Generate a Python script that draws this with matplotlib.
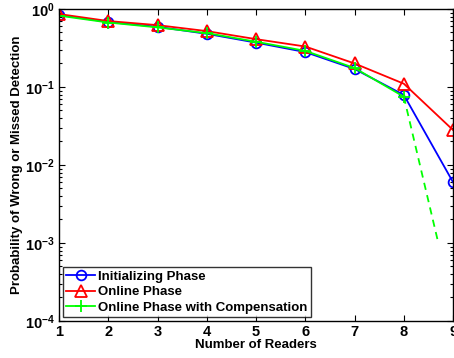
import matplotlib
matplotlib.use("Agg")
import matplotlib.pyplot as plt
from matplotlib.ticker import FixedLocator, LogLocator, NullFormatter

plt.rcParams['font.family'] = ['Liberation Sans', 'DejaVu Sans']
plt.rcParams['font.weight'] = 'bold'
plt.rcParams['mathtext.fontset'] = 'custom'
plt.rcParams['mathtext.rm'] = 'Liberation Sans:bold'
plt.rcParams['mathtext.bf'] = 'Liberation Sans:bold'
plt.rcParams['mathtext.default'] = 'bf'

readers = [1, 2, 3, 4, 5, 6, 7, 8, 9]
initializing = [0.84, 0.68, 0.59, 0.48, 0.37, 0.28, 0.17, 0.079, 0.006]
online = [0.86, 0.70, 0.62, 0.52, 0.41, 0.33, 0.20, 0.11, 0.028]
compensation_x = [1, 2, 3, 4, 5, 6, 7, 8]
compensation = [0.82, 0.67, 0.58, 0.49, 0.38, 0.29, 0.175, 0.075]
compensation_ext_x = [8, 8.7]
compensation_ext = [0.075, 0.001]

yticks = [1e-4, 1e-3, 1e-2, 1e-1, 1e0]
ytick_labels = [r'$10^{-4}$', r'$10^{-3}$', r'$10^{-2}$', r'$10^{-1}$', r'$10^{0}$']

fig = plt.figure(figsize=(4.54, 3.58), dpi=100)
ax = fig.add_axes([0.130, 0.1034, 0.868, 0.8716])

ax.plot(readers, initializing, color='#0000ff', marker='o', markersize=7,
        markerfacecolor='none', markeredgewidth=1.3, lw=1.3, label='Initializing Phase')
ax.plot(readers, online, color='#ff0000', marker='^', markersize=8,
        markerfacecolor='none', markeredgewidth=1.3, lw=1.3, label='Online Phase')
ax.plot(compensation_x, compensation, color='#00ff00', marker='+', markersize=8,
        markeredgewidth=1.3, lw=1.3, label='Online Phase with Compensation')
ax.plot(compensation_ext_x, compensation_ext, color='#00ff00', ls='--', lw=1.3,
        dashes=(4, 3))

ax.set_yscale('log')
ax.set_xlim(1, 9)
ax.set_ylim(1e-4, 1e0)
ax.set_xticks(readers)
ax.set_xticklabels([str(r) for r in readers], fontsize=10.5, fontweight='bold')
ax.yaxis.set_major_locator(FixedLocator(yticks))
ax.set_yticklabels(ytick_labels, fontsize=10.5)
ax.yaxis.set_minor_locator(LogLocator(base=10, subs=range(2, 10)))
ax.yaxis.set_minor_formatter(NullFormatter())
ax.tick_params(which='both', direction='in', top=True, right=True, width=0.8)
ax.tick_params(which='major', length=4, pad=3)
ax.tick_params(which='minor', length=2)
for s in ax.spines.values():
    s.set_linewidth(1.0)

ax.set_xlabel('Number of Readers', fontsize=9.5, fontweight='bold', labelpad=0)
ax.set_ylabel('Probability of Wrong or Missed Detection', fontsize=9.5,
              fontweight='bold', labelpad=1)

leg = ax.legend(loc='lower left', frameon=True, fancybox=False,
                edgecolor='black', borderpad=0.25, labelspacing=0.25,
                handlelength=2.2, handletextpad=0.2, borderaxespad=0.3,
                prop={'weight': 'bold', 'size': 9.5})
leg.get_frame().set_linewidth(1.0)

fig.savefig('out.png', dpi=100)
